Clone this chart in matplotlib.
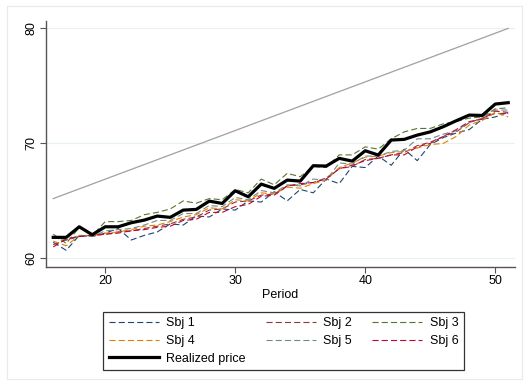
import matplotlib
matplotlib.use("Agg")
import matplotlib.pyplot as plt
from matplotlib.patches import Rectangle

plt.rcParams["font.family"] = ["Liberation Sans", "DejaVu Sans"]

# --------------------------------------------------
# Data: price forecasts per subject and realized price
# --------------------------------------------------

period = list(range(16, 52))

sbj1 = [61.4, 60.7, 62.0, 61.9, 62.2, 62.6, 61.6, 62.0, 62.3, 63.0, 62.9, 63.7,
        63.6, 64.3, 64.2, 65.0, 64.9, 65.8, 65.0, 66.0, 65.7, 66.9, 66.5, 68.0,
        67.9, 68.9, 68.1, 69.5, 68.5, 69.9, 70.5, 70.9, 71.2, 72.1, 72.3, 72.7]
sbj2 = [61.2, 61.6, 61.9, 62.0, 62.1, 62.3, 62.4, 62.6, 62.8, 63.0, 63.4, 63.6,
        64.2, 64.3, 64.9, 65.0, 65.5, 65.6, 66.3, 66.4, 66.6, 67.0, 67.8, 68.0,
        68.6, 68.7, 69.0, 69.2, 69.8, 70.1, 70.6, 71.0, 71.8, 72.2, 72.6, 72.6]
sbj3 = [62.1, 61.3, 62.7, 62.0, 63.2, 63.2, 63.3, 63.8, 64.0, 64.3, 65.0, 64.8,
        65.2, 65.1, 66.0, 65.7, 66.9, 66.4, 67.4, 67.1, 68.0, 67.9, 69.0, 69.0,
        69.7, 69.5, 70.4, 71.0, 71.3, 71.3, 71.7, 71.9, 72.2, 72.3, 73.0, 73.1]
sbj4 = [61.5, 61.1, 62.0, 62.0, 62.2, 62.3, 62.5, 62.8, 62.9, 63.2, 63.6, 63.8,
        64.4, 64.3, 65.1, 65.0, 65.7, 65.6, 66.2, 66.1, 66.5, 66.8, 67.9, 68.3,
        68.8, 68.9, 69.2, 69.3, 69.6, 69.9, 70.0, 70.6, 71.6, 72.0, 72.7, 72.3]
sbj5 = [61.8, 61.6, 62.0, 61.9, 62.4, 62.5, 62.6, 62.9, 63.3, 63.3, 63.9, 63.9,
        64.6, 64.5, 65.3, 65.1, 65.9, 65.7, 66.4, 66.3, 66.9, 66.8, 68.3, 68.2,
        68.9, 68.9, 69.3, 69.4, 70.4, 70.4, 70.8, 71.1, 71.8, 72.2, 72.9, 72.9]
sbj6 = [61.0, 61.7, 61.9, 62.0, 62.1, 62.2, 62.4, 62.5, 62.7, 62.8, 63.3, 63.4,
        64.0, 64.0, 64.5, 64.7, 65.4, 65.5, 66.3, 66.5, 66.6, 66.9, 67.8, 68.1,
        68.5, 68.7, 69.0, 69.0, 69.7, 70.0, 70.6, 71.2, 71.9, 72.1, 72.8, 72.7]

realized = [61.83, 61.83, 62.75, 62.06, 62.75, 62.75, 63.1, 63.33, 63.68, 63.57,
            64.2, 64.26, 64.98, 64.78, 65.88, 65.36, 66.46, 66.09, 66.81, 66.72,
            68.06, 68.03, 68.7, 68.46, 69.36, 68.99, 70.29, 70.35, 70.72, 71.0,
            71.45, 71.97, 72.46, 72.43, 73.42, 73.54]

# reference line (two end points)
ref_x = [16, 51]
ref_y = [65.2, 80.0]

labels = ["Sbj 1", "Sbj 2", "Sbj 3", "Sbj 4", "Sbj 5", "Sbj 6"]
colors = ["#1a476f", "#90353b", "#55752f", "#e37e00", "#6e8e84", "#c10534"]


def main():
    fig = plt.figure(figsize=(5.29, 3.85), dpi=100)
    fig.patch.set_facecolor("white")
    fig.add_artist(Rectangle((7 / 529, 6 / 385), 515 / 529, 373 / 385,
                             transform=fig.transFigure, fill=False,
                             edgecolor="#e3ebee", linewidth=0.8))

    ax = fig.add_axes([0.0864, 0.307, 0.8871, 0.639])

    for y in (60, 70, 80):
        ax.axhline(y, color="#e8f0f2", linewidth=0.9, zorder=0)

    ax.plot(ref_x, ref_y, color="#a0a0a0", linewidth=0.9)

    handles = []
    for series, label, color in zip([sbj1, sbj2, sbj3, sbj4, sbj5, sbj6],
                                    labels, colors):
        h, = ax.plot(period, series, color=color, linewidth=0.8,
                     linestyle=(0, (5.5, 2.8)), label=label)
        handles.append(h)

    hr, = ax.plot(period, realized, color="black", linewidth=2.3,
                  label="Realized price")

    ax.set_xlim(15.42, 51.52)
    ax.set_ylim(59.27, 80.66)
    ax.set_xticks([20, 30, 40, 50])
    ax.set_yticks([60, 70, 80])
    ax.tick_params(axis="both", labelsize=9, length=4, width=0.8,
                   color="#555555", pad=2)
    for lab in ax.get_yticklabels():
        lab.set_rotation(90)
        lab.set_va("center")
    for side in ("top", "right"):
        ax.spines[side].set_visible(False)
    for side in ("left", "bottom"):
        ax.spines[side].set_color("#555555")
        ax.spines[side].set_linewidth(1.0)

    ax.set_xlabel("Period", fontsize=9, labelpad=1)

    # legend filled column by column: 3 + 2 + 2
    order = [handles[0], handles[3], hr, handles[1], handles[4],
             handles[2], handles[5]]
    leg = fig.legend(handles=order, labels=[h.get_label() for h in order],
                     loc="center", bbox_to_anchor=(283.5 / 529, 1 - 341 / 385),
                     ncol=3, fontsize=9, frameon=True, fancybox=False,
                     handlelength=4.0, handletextpad=0.6, columnspacing=1.6,
                     labelspacing=0.45, borderpad=0.45, borderaxespad=0)
    leg.get_frame().set_edgecolor("black")
    leg.get_frame().set_linewidth(0.9)

    fig.savefig("out.png", dpi=100)


if __name__ == "__main__":
    main()
